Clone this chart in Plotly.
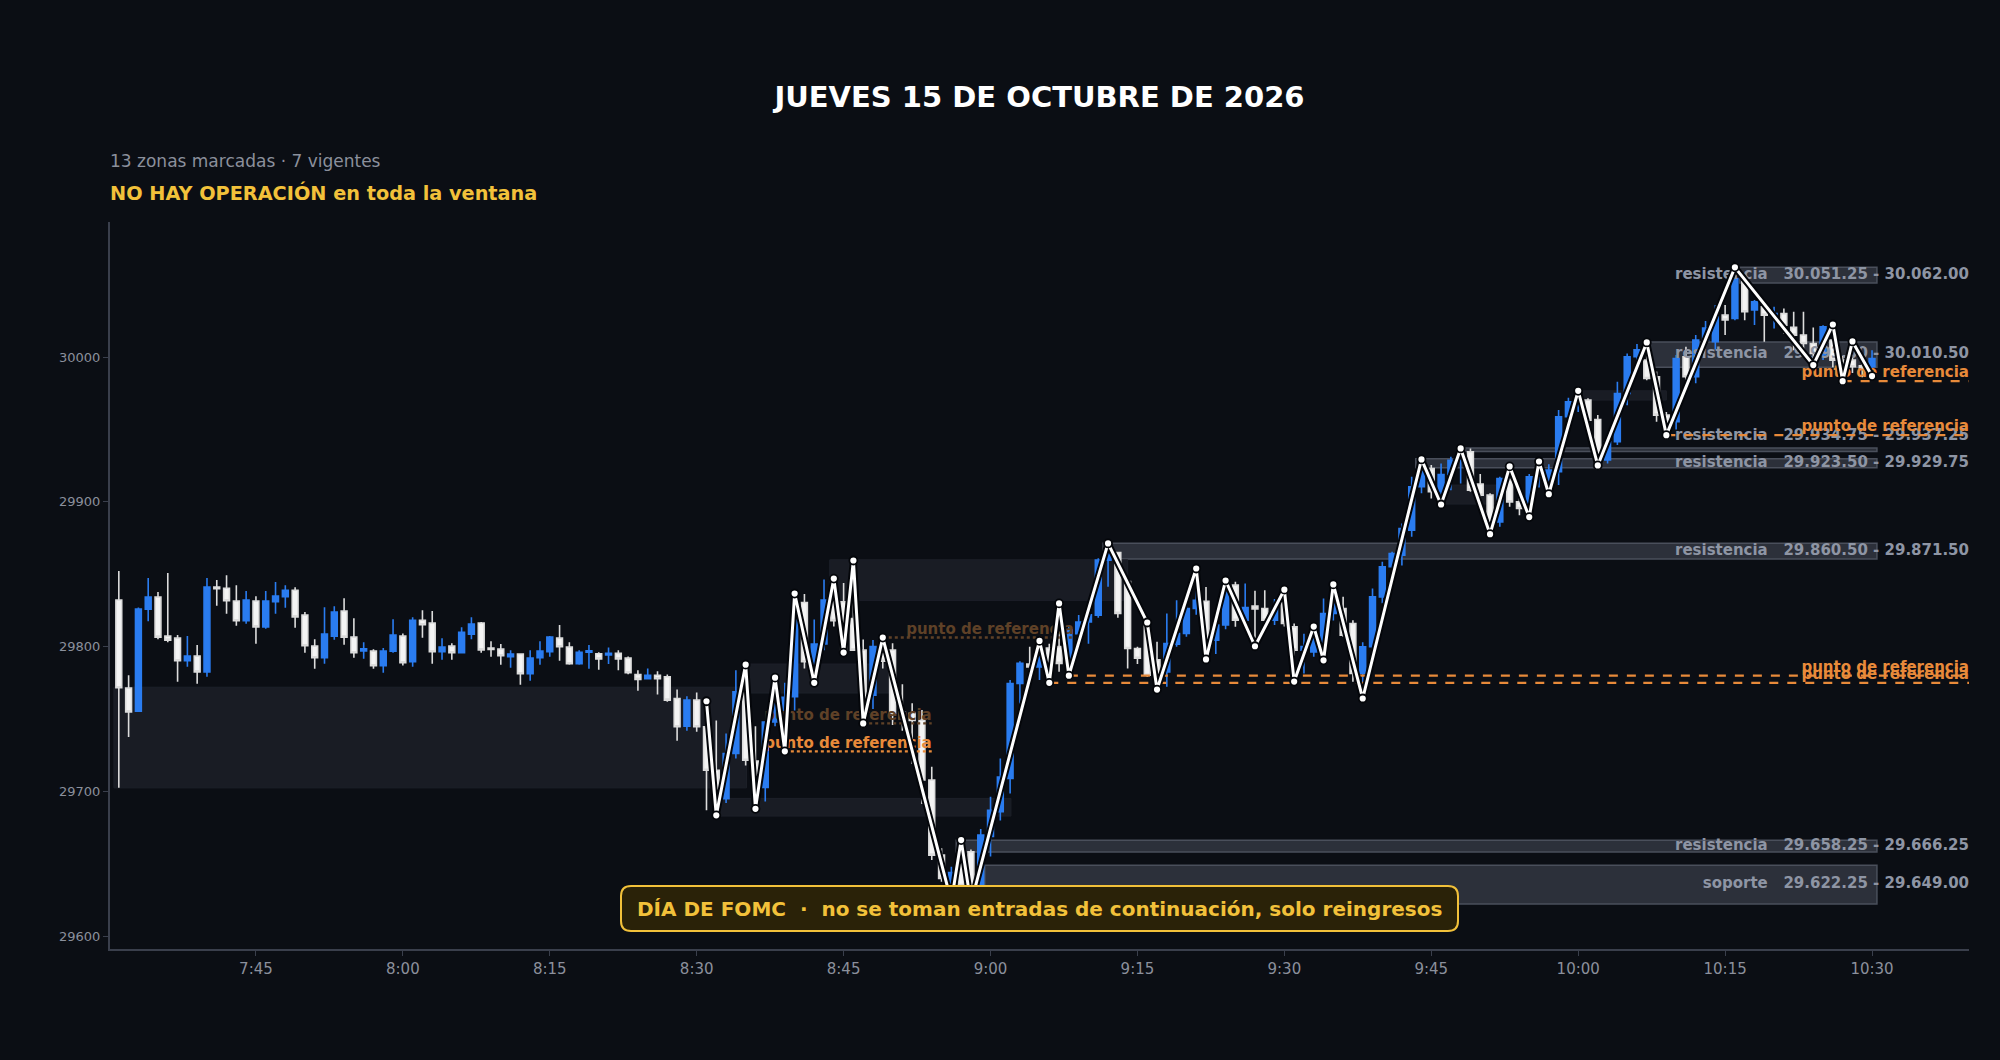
import plotly.graph_objects as go
from datetime import datetime, timedelta

# ---------------- DATA ----------------
SESSION_START = datetime(2026, 10, 15, 7, 31)
N_BARS = 180
bar_times = [SESSION_START + timedelta(minutes=i) for i in range(N_BARS)]

opens = [29832.2, 29771.4, 29755.5, 29825.9, 29834.2, 29807.3, 29805.9, 29790.3, 29793.5, 29782.6,
         29841.1, 29840.4, 29831.5, 29817.9, 29831.5, 29813.7, 29831.0, 29834.5, 29839.0, 29821.8,
         29800.4, 29792.3, 29807.3, 29824.6, 29806.6, 29797.1, 29796.9, 29786.8, 29796.9, 29807.3,
         29789.6, 29818.3, 29816.3, 29796.5, 29800.4, 29795.8, 29808.7, 29816.3, 29799.0, 29798.3,
         29793.0, 29794.9, 29781.3, 29792.3, 29796.5, 29805.9, 29799.7, 29788.2, 29796.2, 29795.1,
         29794.2, 29795.4, 29792.1, 29780.8, 29777.8, 29780.3, 29779.2, 29764.2, 29745.1, 29763.1,
         29744.7, 29714.7, 29695.0, 29726.2, 29768.8, 29721.0, 29702.7, 29748.0, 29745.0, 29765.4,
         29830.5, 29789.6, 29801.8, 29832.0, 29831.0, 29819.5, 29797.6, 29766.5, 29800.0, 29797.7,
         29755.0, 29754.0, 29749.3, 29707.9, 29656.0, 29628.0, 29660.0, 29658.4, 29630.0, 29669.0,
         29686.0, 29709.0, 29774.6, 29788.0, 29786.0, 29799.0, 29800.0, 29790.8, 29809.0, 29817.0,
         29821.8, 29859.8, 29865.0, 29845.0, 29798.7, 29816.0, 29791.0, 29782.6, 29801.7, 29809.1,
         29826.4, 29831.4, 29804.5, 29815.0, 29842.5, 29818.3, 29828.0, 29826.4, 29818.3, 29838.0,
         29813.7, 29797.6, 29796.4, 29796.4, 29822.9, 29826.4, 29816.0, 29781.5, 29799.9, 29834.4,
         29855.2, 29863.2, 29880.5, 29910.4, 29923.0, 29907.0, 29918.9, 29928.8, 29934.6, 29912.3,
         29904.7, 29886.2, 29915.0, 29900.0, 29896.6, 29917.3, 29905.8, 29920.8, 29958.8, 29969.0,
         29970.3, 29956.9, 29929.0, 29941.5, 29974.9, 30000.2, 29998.0, 29986.4, 29960.0, 29955.3,
         30000.2, 29986.4, 30011.7, 30010.6, 30029.0, 30026.7, 30052.0, 30032.5, 30034.8, 30028.0,
         30030.0, 30020.5, 30015.2, 30009.4, 30001.4, 30011.7, 29998.0, 29998.0, 29994.0, 29993.3]

highs = [29852.2, 29780.3, 29827.1, 29847.4, 29837.7, 29850.8, 29808.0, 29807.3, 29801.1, 29847.4,
         29846.0, 29849.4, 29842.5, 29838.4, 29834.9, 29838.4, 29844.6, 29842.5, 29841.1, 29823.9,
         29805.2, 29827.3, 29828.0, 29833.5, 29819.7, 29803.1, 29798.3, 29799.0, 29819.0, 29809.1,
         29820.4, 29825.2, 29824.6, 29805.9, 29802.4, 29813.5, 29820.4, 29817.0, 29803.8, 29801.8,
         29797.6, 29795.5, 29797.6, 29803.8, 29807.3, 29814.9, 29803.1, 29797.6, 29801.1, 29796.2,
         29799.5, 29797.6, 29793.2, 29783.8, 29785.0, 29783.0, 29780.8, 29770.4, 29765.8, 29768.4,
         29762.3, 29749.0, 29740.0, 29783.8, 29787.6, 29745.0, 29748.0, 29778.6, 29775.0, 29836.7,
         29836.3, 29818.8, 29846.4, 29847.0, 29844.0, 29859.5, 29805.0, 29804.6, 29806.3, 29802.3,
         29774.0, 29761.0, 29756.2, 29717.0, 29660.7, 29648.0, 29666.4, 29660.0, 29674.0, 29696.4,
         29722.8, 29776.9, 29790.0, 29800.0, 29804.0, 29802.0, 29829.9, 29815.0, 29821.8, 29830.0,
         29861.0, 29871.3, 29865.0, 29847.1, 29800.0, 29816.7, 29803.4, 29822.9, 29832.1, 29832.1,
         29854.0, 29841.3, 29818.3, 29845.7, 29844.8, 29843.6, 29838.6, 29839.0, 29833.0, 29839.4,
         29816.0, 29809.0, 29813.9, 29833.3, 29843.0, 29834.4, 29818.3, 29803.0, 29840.2, 29858.6,
         29865.5, 29885.1, 29917.3, 29929.3, 29925.4, 29926.5, 29931.1, 29936.9, 29936.9, 29919.2,
         29906.0, 29917.3, 29924.5, 29903.5, 29919.2, 29927.9, 29926.0, 29963.4, 29972.0, 29976.7,
         29971.5, 29960.0, 29945.0, 29983.0, 30002.5, 30009.0, 30010.1, 29990.0, 29962.0, 30001.4,
         30007.1, 30015.2, 30025.0, 30035.9, 30035.9, 30062.0, 30055.5, 30039.4, 30036.0, 30034.8,
         30033.6, 30031.3, 30031.3, 30020.5, 30022.0, 30022.5, 30001.0, 30010.8, 30001.0, 30004.8]

lows = [29702.5, 29737.7, 29755.0, 29817.6, 29805.2, 29803.1, 29775.7, 29786.1, 29774.4, 29779.2,
        29828.2, 29822.7, 29814.4, 29815.8, 29802.0, 29812.4, 29822.7, 29826.9, 29813.0, 29795.8,
        29784.7, 29788.2, 29804.8, 29801.3, 29792.3, 29791.6, 29784.7, 29782.0, 29795.8, 29787.0,
        29786.1, 29806.1, 29788.2, 29790.9, 29790.9, 29795.8, 29805.2, 29795.8, 29793.0, 29787.5,
        29785.4, 29773.7, 29776.4, 29787.5, 29793.0, 29790.2, 29787.5, 29787.5, 29784.7, 29784.0,
        29788.0, 29783.8, 29781.0, 29769.5, 29777.4, 29767.0, 29761.9, 29735.0, 29741.9, 29741.2,
        29687.0, 29683.5, 29692.0, 29722.8, 29718.0, 29688.0, 29693.0, 29745.0, 29727.7, 29756.0,
        29785.0, 29775.0, 29797.6, 29814.0, 29795.9, 29797.0, 29747.0, 29757.0, 29785.0, 29745.9,
        29742.0, 29719.0, 29691.3, 29652.6, 29637.6, 29624.0, 29628.0, 29622.5, 29625.0, 29655.0,
        29680.0, 29698.6, 29760.8, 29780.0, 29777.0, 29775.0, 29782.7, 29780.0, 29802.3, 29802.0,
        29820.0, 29841.4, 29820.0, 29784.9, 29788.0, 29779.2, 29770.4, 29772.3, 29800.0, 29806.8,
        29822.0, 29791.2, 29795.0, 29812.0, 29813.7, 29812.0, 29800.3, 29815.0, 29815.0, 29814.0,
        29775.9, 29781.5, 29793.0, 29790.6, 29818.0, 29806.8, 29775.7, 29764.2, 29795.0, 29830.0,
        29850.0, 29856.0, 29876.0, 29906.0, 29902.4, 29898.2, 29908.0, 29912.7, 29907.0, 29900.0,
        29877.7, 29882.8, 29896.6, 29890.8, 29889.5, 29910.0, 29905.3, 29911.6, 29950.0, 29962.0,
        29950.0, 29925.2, 29926.5, 29939.2, 29966.8, 29995.0, 29984.0, 29955.3, 29946.1, 29950.0,
        29984.0, 29982.0, 30008.0, 30005.0, 30015.2, 30025.5, 30025.5, 30022.1, 30010.6, 30019.8,
        30016.0, 30004.8, 30003.7, 29994.5, 29998.0, 29993.0, 29983.4, 29989.0, 29986.0, 29986.9]

closes = [29771.6, 29755.0, 29825.9, 29834.2, 29806.6, 29804.5, 29790.3, 29793.5, 29782.6, 29841.1,
          29840.0, 29831.7, 29817.9, 29832.2, 29813.7, 29831.5, 29834.9, 29839.0, 29820.6, 29800.6,
          29792.3, 29808.7, 29823.9, 29806.6, 29795.8, 29798.5, 29786.8, 29796.9, 29808.0, 29788.9,
          29818.3, 29815.1, 29796.5, 29799.7, 29795.8, 29810.0, 29815.6, 29797.8, 29798.0, 29793.7,
          29794.9, 29781.3, 29792.1, 29796.9, 29806.6, 29799.9, 29788.2, 29796.2, 29797.1, 29791.6,
          29795.4, 29791.6, 29782.0, 29777.4, 29780.3, 29777.8, 29763.1, 29744.7, 29763.1, 29744.7,
          29714.7, 29695.0, 29726.2, 29768.8, 29721.6, 29696.3, 29748.0, 29778.0, 29765.0, 29832.0,
          29789.6, 29801.8, 29832.2, 29818.0, 29797.6, 29797.6, 29763.0, 29800.0, 29790.0, 29753.9,
          29750.0, 29749.0, 29707.9, 29656.0, 29639.9, 29644.0, 29635.0, 29630.0, 29669.9, 29687.0,
          29710.0, 29774.6, 29788.5, 29786.0, 29799.0, 29785.0, 29788.5, 29811.5, 29817.0, 29822.0,
          29859.8, 29865.0, 29823.0, 29798.7, 29792.0, 29780.3, 29775.0, 29802.2, 29809.1, 29826.4,
          29832.0, 29792.0, 29815.0, 29844.8, 29818.3, 29827.1, 29826.0, 29818.3, 29826.4, 29816.0,
          29797.6, 29800.0, 29804.5, 29822.9, 29829.8, 29808.0, 29781.5, 29799.9, 29834.4, 29855.2,
          29864.4, 29881.6, 29910.4, 29921.9, 29907.0, 29918.9, 29928.8, 29930.0, 29908.1, 29904.7,
          29885.1, 29916.2, 29900.0, 29895.4, 29917.3, 29922.0, 29921.9, 29958.8, 29969.1, 29974.0,
          29956.5, 29928.8, 29941.5, 29974.9, 30000.2, 30005.0, 29985.2, 29959.9, 29955.0, 29999.0,
          29986.4, 30011.7, 30020.0, 30027.8, 30025.6, 30054.3, 30031.3, 30038.2, 30029.0, 30030.0,
          30022.0, 30015.2, 30009.4, 30002.5, 30021.0, 29997.9, 29993.0, 29993.3, 29992.0, 29999.0]

# swing points (zigzag)
swing_times = ["08:31", "08:32", "08:35", "08:36", "08:38", "08:39", "08:40", "08:42", "08:44", "08:45",
               "08:46", "08:47", "08:49", "08:56", "08:57", "08:58", "09:05", "09:06", "09:07", "09:08",
               "09:12", "09:16", "09:17", "09:21", "09:22", "09:24", "09:27", "09:30", "09:31", "09:33",
               "09:34", "09:35", "09:38", "09:44", "09:46", "09:48", "09:51", "09:53", "09:55", "09:56",
               "09:57", "10:00", "10:02", "10:07", "10:09", "10:16", "10:24", "10:26", "10:27", "10:28",
               "10:30"]
swing_prices = [29762.3, 29683.5, 29787.6, 29688.0, 29778.6, 29727.7, 29836.7, 29775.0, 29847.0, 29795.9,
                29859.5, 29747.0, 29806.3, 29624.0, 29666.4, 29622.5, 29804.0, 29775.0, 29829.9, 29780.0,
                29871.3, 29816.7, 29770.4, 29854.0, 29791.2, 29845.7, 29800.3, 29839.4, 29775.9, 29813.9,
                29790.6, 29843.0, 29764.2, 29929.3, 29898.2, 29936.9, 29877.7, 29924.5, 29889.5, 29927.9,
                29905.3, 29976.7, 29925.2, 30010.1, 29946.1, 30062.0, 29994.5, 30022.5, 29983.4, 30010.8,
                29986.9]

# zones (13 marked, 7 still valid)
zone_low = [29622.25, 29658.25, 29860.50, 29923.50, 29934.75, 29993.00, 30051.25,
            29702.5, 29768.0, 29832.0, 29683.0, 29898.5, 29970.3]
zone_high = [29649.00, 29666.25, 29871.50, 29929.75, 29937.25, 30010.50, 30062.00,
             29772.0, 29788.0, 29860.0, 29695.2, 29911.6, 29976.7]
zone_start = ["08:59:25", "08:56:30", "09:11:30", "09:43:25", "09:48:30", "10:07:20", "10:16:30",
              "07:30:30", "08:35:00", "08:43:35", "08:32:25", "09:46:25", "10:00:30"]
zone_end = [None, None, None, None, None, None, None,
            "08:35:05", "08:49:40", "09:14:00", "09:02:05", "09:51:40", "10:09:00"]
zone_kind = ["soporte", "resistencia", "resistencia", "resistencia", "resistencia", "resistencia", "resistencia",
             "", "", "", "", "", ""]
zone_valid = [True] * 7 + [False] * 6
ZONES_END = "10:30:30"

# reference points
ref_price = [29983.4, 29946.1, 29780.0, 29775.0, 29806.3, 29747.0, 29727.7]
ref_start = ["10:27", "10:09", "09:08", "09:06", "08:49", "08:47", "08:39"]
ref_end = [None, None, None, None, "09:08:30", "08:54", "08:54"]
ref_faded = [False, False, False, False, True, True, False]

TITLE = "JUEVES 15 DE OCTUBRE DE 2026"
SUB1 = "13 zonas marcadas · 7 vigentes"
SUB2 = "NO HAY OPERACIÓN en toda la ventana"
BANNER = "DÍA DE FOMC\u00a0\u00a0·\u00a0\u00a0no se toman entradas de continuación, solo reingresos"
REF_LABEL = "punto de referencia"

xtick_labels = ["7:45", "8:00", "8:15", "8:30", "8:45", "9:00", "9:15", "9:30", "9:45",
                "10:00", "10:15", "10:30"]
ytick_vals = [29600, 29700, 29800, 29900, 30000]

# ---------------- STYLE ----------------
BG = "#0b0e14"
FONT = "DejaVu Sans"
BLUE = "#2a7cf0"
WHITE = "#f4f4f4"
GREY_TXT = "#8b909c"
ORANGE = "#e88a3a"
ORANGE_FADED = "#5f4127"
YELLOW = "#f2c13a"
AXIS = "#3a3f4c"

X_LO = "2026-10-15 07:30:06"
X_HI = "2026-10-15 10:39:54"
Y_LO, Y_HI = 29591.2, 30093.3
ML, MR, MT, MB = 110, 31, 222, 111
W, H = 2000, 1060
PW, PH = W - ML - MR, H - MT - MB


def t(hhmm):
    parts = [int(p) for p in hhmm.split(":")]
    while len(parts) < 3:
        parts.append(0)
    return datetime(2026, 10, 15, parts[0], parts[1], parts[2])


fig = go.Figure()

# zones as shapes (below traces)
shapes = []
for lo, hi, st, en, ok in zip(zone_low, zone_high, zone_start, zone_end, zone_valid):
    x1 = t(ZONES_END) if en is None else t(en)
    if ok:
        shapes.append(dict(type="rect", xref="x", yref="y", x0=t(st), x1=x1, y0=lo, y1=hi,
                           fillcolor="#2c303a", line=dict(color="#4a4f5b", width=1.5), layer="below"))
    else:
        shapes.append(dict(type="rect", xref="x", yref="y", x0=t(st), x1=x1, y0=lo, y1=hi,
                           fillcolor="#191c24", line=dict(color="#1d2029", width=1), layer="below"))

# zone labels (text trace drawn under the candles)
lab_items = []
for lo, hi, kind, ok in zip(zone_low, zone_high, zone_kind, zone_valid):
    if ok:
        txt = kind + "\u00a0\u00a0\u00a0" + f"{lo:,.2f}".replace(",", ".") + " - " + f"{hi:,.2f}".replace(",", ".")
        lab_items.append([(lo + hi) / 2, txt])
lab_items.sort(key=lambda a: a[0])
MIN_SEP = 19.0
for k in range(1, len(lab_items)):
    if lab_items[k][0] - lab_items[k - 1][0] < MIN_SEP:
        lab_items[k][0] = lab_items[k - 1][0] + MIN_SEP
fig.add_trace(go.Scatter(
    x=[t("10:39:54")] * len(lab_items), y=[a[0] for a in lab_items],
    text=[a[1] for a in lab_items], mode="text", textposition="middle left",
    textfont=dict(family=FONT, size=15, color="#8e95a4", weight="bold"),
    hoverinfo="skip", showlegend=False, cliponaxis=False))

# candles
fig.add_trace(go.Candlestick(
    x=bar_times, open=opens, high=highs, low=lows, close=closes,
    increasing=dict(line=dict(color=BLUE, width=1.6), fillcolor=BLUE),
    decreasing=dict(line=dict(color="#dcdcdc", width=1.6), fillcolor=WHITE),
    whiskerwidth=0, showlegend=False, hoverinfo="skip"))

# reference lines + labels
for p, st, en, faded in zip(ref_price, ref_start, ref_end, ref_faded):
    x1 = t("10:39:54") if en is None else t(en)
    col = ORANGE_FADED if faded else ORANGE
    dash = "dash" if en is None else "dot"
    fig.add_trace(go.Scatter(x=[t(st), x1], y=[p, p], mode="lines",
                             line=dict(color=col, width=2.4, dash=dash),
                             hoverinfo="skip", showlegend=False))
    fig.add_trace(go.Scatter(x=[x1], y=[p], mode="text", text=[REF_LABEL], textposition="top left",
                             textfont=dict(family=FONT, size=15, color=col, weight="bold"),
                             hoverinfo="skip", showlegend=False, cliponaxis=False))

# zigzag
zx = [t(s) for s in swing_times]
fig.add_trace(go.Scatter(x=zx, y=swing_prices, mode="lines",
                         line=dict(color="#04060a", width=7), hoverinfo="skip", showlegend=False))
fig.add_trace(go.Scatter(x=zx, y=swing_prices, mode="lines+markers",
                         line=dict(color="#ffffff", width=3),
                         marker=dict(size=8, color="#ffffff", line=dict(color="#04060a", width=1.8)),
                         hoverinfo="skip", showlegend=False))

# banner (rounded box in paper coords)
bx0, bx1, by0, by1, rad = 621, 1458, 886, 931, 10
px = lambda v: (v - ML) / PW
py = lambda v: (H - MB - v) / PH
rx, ry = rad / PW, rad / PH
X0, X1, Y0, Y1 = px(bx0), px(bx1), py(by1), py(by0)
path = (f"M {X0+rx},{Y0} L {X1-rx},{Y0} Q {X1},{Y0} {X1},{Y0+ry} L {X1},{Y1-ry} Q {X1},{Y1} {X1-rx},{Y1} "
        f"L {X0+rx},{Y1} Q {X0},{Y1} {X0},{Y1-ry} L {X0},{Y0+ry} Q {X0},{Y0} {X0+rx},{Y0} Z")
shapes.append(dict(type="path", xref="paper", yref="paper", path=path, fillcolor="#2a2208",
                   line=dict(color=YELLOW, width=2), layer="above"))

annotations = [
    dict(xref="paper", yref="paper", x=px(108), y=py(161), xanchor="left", yanchor="middle", showarrow=False,
         text=SUB1, font=dict(family=FONT, size=17, color=GREY_TXT)),
    dict(xref="paper", yref="paper", x=px(108), y=py(193), xanchor="left", yanchor="middle", showarrow=False,
         text="<b>" + SUB2 + "</b>", font=dict(family=FONT, size=19.3, color=YELLOW)),
    dict(xref="paper", yref="paper", x=0.5, y=(py(by0) + py(by1)) / 2, xanchor="center", yanchor="middle",
         showarrow=False, text="<b>" + BANNER + "</b>", font=dict(family=FONT, size=20, color=YELLOW)),
]

tickvals = [t(s) for s in ["07:45", "08:00", "08:15", "08:30", "08:45", "09:00", "09:15", "09:30",
                           "09:45", "10:00", "10:15", "10:30"]]

fig.update_layout(
    width=W, height=H, margin=dict(l=ML, r=MR, t=MT, b=MB),
    paper_bgcolor=BG, plot_bgcolor=BG,
    title=dict(text="<b>" + TITLE + "</b>", x=0.5, xref="paper", y=1 - 97 / H, yref="container",
               xanchor="center", yanchor="middle", font=dict(family=FONT, size=29, color="#ffffff")),
    shapes=shapes, annotations=annotations, showlegend=False, boxgap=0.15,
    xaxis=dict(type="date", range=[X_LO, X_HI], rangeslider=dict(visible=False),
               tickvals=tickvals, ticktext=xtick_labels, showgrid=False, zeroline=False,
               showline=True, linecolor=AXIS, linewidth=2, ticks="outside", ticklen=5, tickcolor=AXIS,
               tickfont=dict(family=FONT, size=15, color=GREY_TXT)),
    yaxis=dict(range=[Y_LO, Y_HI], tickvals=ytick_vals, ticktext=[str(v) for v in ytick_vals],
               showgrid=False, zeroline=False, showline=True, linecolor=AXIS, linewidth=2,
               ticks="outside", ticklen=5, tickcolor=AXIS,
               tickfont=dict(family=FONT, size=13, color=GREY_TXT)),
    font=dict(family=FONT),
)

fig.write_html("out.html")
